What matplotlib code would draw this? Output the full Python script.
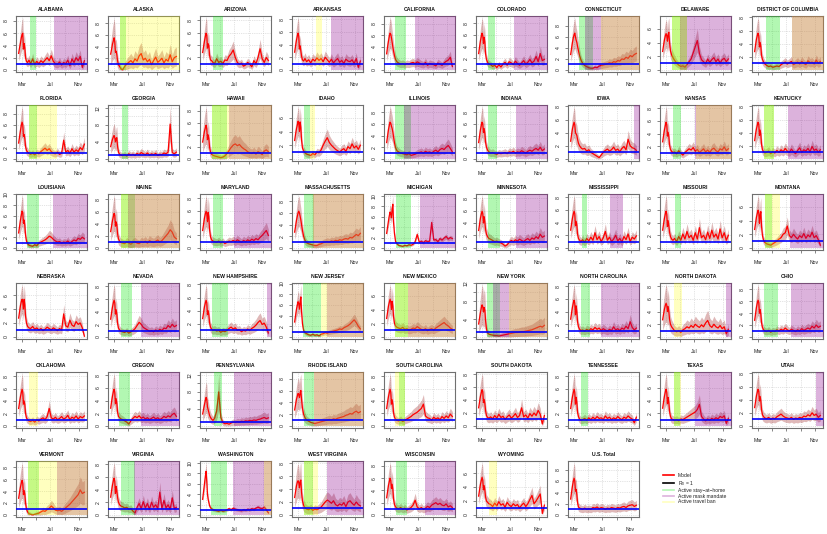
import numpy as np
import matplotlib.pyplot as plt
from matplotlib.lines import Line2D

plt.rcParams['font.family'] = ['Liberation Sans', 'DejaVu Sans']

days = [-16, -12, -8, -4, -1, 2, 5, 8, 11, 14, 18, 23, 29,
        36, 45, 54, 63, 72, 81, 90, 99, 108, 117, 126, 135, 144, 153,
        162, 171, 180, 189, 198, 207, 216, 225, 234, 243, 252, 261, 270]

states = ['ALABAMA', 'ALASKA', 'ARIZONA', 'ARKANSAS', 'CALIFORNIA', 'COLORADO',
          'CONNECTICUT', 'DELAWARE', 'DISTRICT OF COLUMBIA', 'FLORIDA', 'GEORGIA',
          'HAWAII', 'IDAHO', 'ILLINOIS', 'INDIANA', 'IOWA', 'KANSAS', 'KENTUCKY',
          'LOUISIANA', 'MAINE', 'MARYLAND', 'MASSACHUSETTS', 'MICHIGAN', 'MINNESOTA',
          'MISSISSIPPI', 'MISSOURI', 'MONTANA', 'NEBRASKA', 'NEVADA', 'NEW HAMPSHIRE',
          'NEW JERSEY', 'NEW MEXICO', 'NEW YORK', 'NORTH CAROLINA', 'NORTH DAKOTA',
          'OHIO', 'OKLAHOMA', 'OREGON', 'PENNSYLVANIA', 'RHODE ISLAND',
          'SOUTH CAROLINA', 'SOUTH DAKOTA', 'TENNESSEE', 'TEXAS', 'UTAH', 'VERMONT',
          'VIRGINIA', 'WASHINGTON', 'WEST VIRGINIA', 'WISCONSIN', 'WYOMING', 'U.S. Total']

# estimated reproduction number (model mean)
rt = {
    'ALABAMA': [2.7, 3.6, 4.4, 5.3, 5.8, 6.0, 3.4, 4.3, 3.6, 2.0, 1.4, 1.2, 1.6,
                1.0, 1.8, 0.9, 1.4, 1.0, 1.5, 1.2, 1.6, 2.0, 1.5, 2.3, 1.4, 1.0, 0.9, 1.3, 0.8, 1.2, 1.0, 1.6, 0.7, 1.8, 1.2, 2.0, 1.5, 2.2, 0.4, 1.5],
    'ALASKA': [2.7, 3.5, 4.4, 5.0, 5.5, 4.8, 3.0, 3.2, 2.6, 1.6, 0.9, 0.6, 0.2,
               0.0, 0.6, 1.0, 1.3, 1.6, 1.2, 1.9, 1.5, 2.4, 2.8, 1.7, 2.0, 1.4, 1.8, 0.9, 1.6, 2.2, 1.3, 1.6, 2.0, 1.2, 1.8, 1.5, 2.6, 1.4, 2.1, 2.3],
    'ARIZONA': [2.8, 3.7, 4.6, 5.4, 5.9, 5.6, 3.5, 4.2, 3.9, 2.4, 1.6, 1.5, 1.2,
                1.0, 1.8, 1.2, 1.4, 1.0, 1.6, 1.5, 2.2, 2.6, 3.2, 2.0, 1.2, 0.9, 1.1, 0.6, 0.8, 1.2, 0.9, 0.5, 1.5, 1.0, 2.0, 3.4, 1.8, 1.2, 2.0, 1.5],
    'ARKANSAS': [2.8, 3.8, 4.7, 5.4, 5.8, 5.3, 3.3, 3.8, 3.0, 2.2, 1.6, 1.4, 1.8,
                 1.3, 1.6, 1.1, 1.7, 1.4, 1.9, 1.5, 1.8, 1.3, 2.0, 1.6, 1.2, 1.7, 1.1, 1.5, 1.8, 1.2, 1.5, 1.0, 1.7, 1.4, 1.3, 1.6, 1.0, 1.8, 0.4, 1.4],
    'CALIFORNIA': [2.8, 4.0, 5.0, 5.9, 6.4, 6.2, 5.6, 4.8, 4.0, 3.3, 2.5, 1.8, 1.4,
                   1.2, 1.0, 1.1, 0.9, 1.1, 1.0, 1.2, 1.3, 1.1, 1.4, 1.2, 1.0, 0.9, 1.3, 0.8, 1.1, 1.0, 0.9, 0.7, 1.2, 1.0, 0.8, 1.2, 1.5, 1.7, 2.2, 0.6],
    'COLORADO': [2.8, 3.9, 5.0, 5.8, 6.3, 5.9, 4.5, 5.6, 4.8, 2.8, 1.8, 1.3, 1.0,
                 0.9, 0.6, 0.8, 0.4, 0.9, 0.5, 1.0, 1.3, 0.8, 1.4, 1.2, 0.9, 1.5, 1.1, 0.8, 1.2, 1.6, 1.0, 1.3, 1.8, 1.2, 1.5, 2.3, 1.4, 2.8, 1.6, 1.8],
    'CONNECTICUT': [2.8, 3.9, 5.0, 5.9, 6.4, 6.7, 6.0, 5.4, 5.0, 4.3, 3.5, 2.6, 1.8,
                    1.2, 0.8, 0.6, 0.4, 0.3, 0.3, 0.5, 0.4, 0.7, 0.8, 0.9, 1.0, 1.1, 1.3, 1.2, 1.5, 1.4, 1.7, 1.6, 2.0, 1.9, 2.3, 2.1, 2.6, 2.4, 2.8, 3.0],
    'DELAWARE': [2.7, 3.6, 4.4, 5.0, 5.3, 5.0, 4.2, 5.2, 5.5, 4.0, 2.8, 2.2, 1.8,
                 1.4, 1.0, 0.7, 0.5, 0.6, 0.4, 0.8, 1.2, 1.6, 2.5, 3.4, 4.3, 2.4, 1.5, 1.2, 0.9, 1.6, 1.1, 1.5, 1.8, 1.2, 1.6, 1.0, 1.5, 1.7, 1.2, 1.6],
    'DISTRICT OF COLUMBIA': [2.8, 3.8, 4.7, 5.3, 5.6, 5.2, 3.5, 4.2, 3.6, 2.2, 1.6, 1.2, 0.9,
                             0.7, 0.5, 0.6, 0.4, 0.5, 0.6, 0.5, 0.8, 1.0, 1.2, 0.9, 1.1, 1.3, 0.8, 1.0, 1.2, 0.9, 1.3, 1.0, 0.8, 1.4, 1.1, 1.2, 0.9, 1.5, 1.0, 1.3],
    'FLORIDA': [2.8, 3.9, 5.0, 6.0, 6.5, 6.0, 4.0, 4.3, 3.6, 2.2, 1.5, 1.2, 1.0,
                0.8, 1.0, 0.7, 1.1, 0.9, 1.3, 1.6, 1.9, 1.5, 1.8, 1.3, 1.0, 0.9, 1.2, 0.8, 1.0, 3.3, 1.2, 1.5, 1.0, 1.8, 1.2, 1.6, 1.3, 2.0, 1.6, 2.6],
    'GEORGIA': [2.9, 3.8, 4.6, 5.2, 5.5, 5.0, 4.0, 4.8, 5.0, 3.0, 1.6, 1.1, 0.9,
                0.8, 1.0, 0.7, 1.2, 0.9, 1.1, 0.8, 1.3, 1.0, 1.5, 1.2, 1.0, 1.4, 0.9, 1.2, 1.0, 1.3, 0.8, 1.1, 1.0, 1.4, 1.2, 1.6, 8.2, 1.5, 1.2, 1.6],
    'HAWAII': [2.8, 3.7, 4.6, 5.2, 5.6, 5.0, 3.2, 4.0, 3.4, 2.0, 1.2, 0.8, 0.6,
               0.5, 0.4, 0.3, 0.2, 0.3, 0.5, 0.9, 1.4, 1.9, 2.3, 2.5, 2.2, 2.4, 2.0, 1.7, 1.5, 1.2, 1.0, 0.9, 1.1, 0.8, 1.2, 1.0, 0.7, 1.3, 1.5, 1.2],
    'IDAHO': [2.7, 3.6, 4.4, 5.0, 5.5, 5.2, 4.0, 5.4, 4.6, 2.8, 1.6, 1.2, 0.9,
              0.7, 0.6, 0.5, 0.8, 0.6, 1.0, 0.9, 1.3, 2.0, 2.6, 3.1, 2.4, 2.0, 1.7, 1.4, 1.2, 1.0, 1.3, 1.5, 1.1, 1.8, 1.5, 2.2, 1.6, 1.9, 1.4, 2.0],
    'ILLINOIS': [2.8, 3.9, 5.0, 5.8, 6.3, 6.1, 5.6, 5.2, 4.6, 3.8, 2.8, 1.9, 1.4,
                 1.2, 1.0, 0.9, 0.8, 0.7, 0.9, 0.6, 0.7, 0.8, 1.0, 1.1, 1.2, 1.0, 1.3, 1.1, 1.2, 1.0, 1.3, 1.5, 1.2, 1.6, 1.8, 1.6, 2.0, 2.3, 1.8, 1.2],
    'INDIANA': [2.8, 3.9, 5.0, 5.8, 6.3, 6.0, 4.5, 5.2, 4.4, 2.9, 2.0, 1.5, 1.2,
                1.0, 1.1, 0.9, 0.8, 1.0, 0.9, 1.0, 1.1, 0.9, 1.2, 1.1, 1.3, 1.0, 1.2, 1.1, 1.4, 1.2, 1.0, 1.3, 1.5, 1.3, 1.6, 1.8, 1.5, 2.0, 1.4, 1.7],
    'IOWA': [2.7, 3.7, 4.6, 5.2, 5.6, 5.2, 4.0, 3.8, 3.6, 3.0, 2.4, 2.0, 1.7,
             1.5, 1.6, 1.2, 1.4, 1.0, 0.8, 0.6, 0.4, 0.2, 0.6, 1.0, 1.3, 1.5, 1.2, 1.4, 1.8, 1.3, 1.5, 1.1, 1.6, 1.9, 1.4, 3.0, 2.0, 1.7, 1.6, 1.3],
    'KANSAS': [2.7, 3.7, 4.6, 5.3, 5.8, 5.4, 3.6, 4.2, 3.5, 2.2, 1.5, 1.2, 1.0,
               1.1, 0.8, 1.3, 0.9, 0.6, 1.0, 1.3, 1.6, 1.4, 1.8, 1.2, 1.5, 1.0, 1.3, 1.6, 1.1, 1.4, 1.0, 1.5, 1.7, 1.3, 1.1, 1.6, 1.4, 1.9, 1.3, 1.6],
    'KENTUCKY': [2.8, 3.8, 4.6, 5.2, 5.6, 5.3, 3.6, 4.4, 3.7, 2.2, 1.4, 1.1, 0.9,
                 1.0, 1.2, 0.8, 1.1, 0.9, 1.3, 1.0, 1.4, 1.1, 1.6, 1.2, 1.0, 1.5, 1.1, 0.8, 1.3, 1.7, 1.0, 1.4, 1.2, 1.6, 1.1, 1.9, 1.3, 1.5, 1.0, 1.4],
    'LOUISIANA': [2.8, 4.0, 5.2, 6.2, 6.9, 6.6, 4.6, 5.2, 4.2, 2.4, 1.3, 0.8, 0.5,
                  0.4, 0.3, 0.6, 0.4, 0.9, 1.1, 1.3, 1.5, 1.8, 2.2, 2.0, 1.6, 1.3, 1.1, 1.2, 0.9, 1.1, 1.0, 1.3, 0.9, 1.2, 1.5, 1.3, 1.8, 1.6, 2.0, 1.7],
    'MAINE': [2.7, 3.6, 4.5, 5.2, 5.7, 5.4, 3.6, 4.3, 3.8, 2.4, 1.5, 1.1, 0.9,
              0.8, 0.7, 1.0, 0.8, 0.6, 0.9, 1.0, 0.8, 0.7, 1.0, 0.9, 1.1, 0.8, 1.2, 1.0, 0.9, 1.1, 1.3, 1.0, 1.2, 1.6, 2.0, 2.4, 3.0, 2.6, 1.8, 1.5],
    'MARYLAND': [2.8, 3.8, 4.8, 5.5, 5.9, 5.5, 4.2, 5.7, 5.0, 3.0, 1.8, 1.3, 1.1,
                 1.0, 0.9, 1.1, 0.8, 1.0, 0.7, 0.9, 1.1, 1.0, 1.2, 1.0, 1.3, 1.1, 0.9, 1.2, 1.0, 1.3, 1.1, 1.4, 1.2, 1.5, 1.3, 1.7, 2.0, 2.4, 2.8, 2.0],
    'MASSACHUSETTS': [2.7, 3.7, 4.7, 5.5, 6.0, 6.3, 6.0, 5.4, 4.8, 4.0, 3.0, 2.0, 1.3,
                      0.9, 0.7, 0.6, 0.5, 0.4, 0.4, 0.6, 0.7, 0.9, 1.0, 1.1, 1.0, 1.2, 1.1, 1.3, 1.2, 1.4, 1.3, 1.5, 1.6, 1.5, 1.8, 1.7, 2.0, 2.3, 2.1, 2.5],
    'MICHIGAN': [2.8, 4.0, 5.2, 6.3, 6.9, 6.5, 5.8, 7.6, 8.4, 5.0, 2.8, 1.2, 0.8,
                 0.5, 0.4, 0.3, 0.5, 0.4, 0.6, 0.5, 0.7, 1.2, 2.6, 1.1, 1.3, 1.0, 1.4, 1.2, 1.3, 4.9, 1.5, 1.6, 1.2, 1.8, 1.5, 1.9, 2.2, 1.7, 2.0, 1.8],
    'MINNESOTA': [2.8, 3.8, 4.8, 5.5, 5.9, 5.5, 4.0, 5.0, 4.2, 3.0, 2.2, 1.8, 1.5,
                  1.4, 1.2, 1.0, 1.1, 0.9, 0.8, 0.6, 0.3, 0.5, 0.9, 1.2, 1.0, 1.3, 1.1, 1.4, 1.2, 1.0, 1.3, 1.5, 1.2, 1.6, 1.4, 1.8, 1.5, 2.2, 1.7, 1.9],
    'MISSISSIPPI': [2.8, 3.8, 4.7, 5.4, 5.8, 5.4, 3.5, 4.2, 3.6, 2.2, 1.5, 1.2, 1.0,
                    1.3, 0.9, 1.5, 1.1, 1.7, 1.2, 2.4, 1.3, 1.8, 1.0, 1.6, 2.6, 1.2, 1.7, 1.0, 1.4, 2.0, 1.1, 1.5, 0.9, 1.8, 1.3, 2.2, 1.0, 1.7, 1.4, 1.9],
    'MISSOURI': [2.8, 3.8, 4.7, 5.4, 5.8, 5.3, 3.4, 4.3, 3.5, 2.5, 1.8, 1.4, 1.2,
                 1.5, 1.0, 1.8, 1.2, 2.2, 1.4, 2.6, 1.6, 2.0, 1.2, 2.4, 1.4, 3.2, 1.6, 2.0, 1.3, 2.5, 1.5, 2.8, 1.7, 2.2, 1.4, 3.0, 1.6, 2.4, 1.2, 2.0],
    'MONTANA': [2.7, 3.6, 4.5, 5.1, 5.5, 5.2, 3.6, 4.8, 5.3, 3.2, 1.8, 1.1, 0.8,
                0.6, 0.5, 0.4, 0.6, 0.8, 1.0, 1.3, 1.5, 2.0, 2.2, 3.2, 1.8, 1.5, 2.0, 1.6, 1.3, 1.8, 1.5, 2.1, 1.4, 1.9, 1.6, 2.3, 1.5, 1.8, 1.2, 0.4],
    'NEBRASKA': [2.7, 3.6, 4.5, 5.1, 5.4, 5.0, 4.0, 5.4, 4.6, 3.0, 2.0, 1.5, 1.3,
                 1.2, 1.5, 1.1, 1.3, 1.0, 1.2, 0.9, 1.1, 1.4, 1.2, 1.0, 1.3, 1.1, 0.9, 1.2, 1.0, 3.3, 1.6, 1.4, 2.4, 1.7, 1.5, 2.2, 1.8, 2.0, 1.3, 0.1],
    'NEVADA': [2.8, 3.8, 4.7, 5.4, 5.8, 5.4, 3.6, 4.3, 3.6, 2.2, 1.4, 1.1, 0.9,
               0.8, 0.7, 0.9, 0.6, 0.8, 1.0, 1.3, 1.8, 2.3, 2.0, 1.5, 1.3, 1.1, 0.9, 1.0, 0.8, 1.1, 0.9, 1.2, 1.0, 1.4, 1.3, 1.8, 1.5, 2.0, 1.6, 1.8],
    'NEW HAMPSHIRE': [2.8, 3.7, 4.6, 5.2, 5.6, 5.2, 3.4, 4.0, 3.4, 2.2, 1.5, 1.2, 1.0,
                      1.1, 0.9, 1.0, 0.7, 0.9, 0.8, 1.0, 1.3, 1.5, 1.2, 1.4, 1.0, 1.1, 0.8, 1.0, 0.9, 1.2, 1.0, 1.3, 1.5, 1.8, 2.2, 2.5, 1.9, 2.1, 1.5, 0.6],
    'NEW JERSEY': [2.8, 4.0, 5.2, 6.0, 6.6, 6.3, 5.2, 6.5, 7.5, 4.8, 2.5, 1.2, 0.8,
                   0.6, 0.4, 0.3, 0.5, 0.3, 0.4, 0.2, 0.5, 0.6, 0.8, 0.7, 0.9, 1.0, 1.1, 1.2, 1.3, 1.5, 1.4, 1.7, 1.9, 2.1, 2.4, 2.8, 3.2, 2.7, 2.0, 1.5],
    'NEW MEXICO': [2.7, 3.6, 4.5, 5.1, 5.5, 5.1, 4.0, 5.2, 4.5, 3.0, 2.0, 1.6, 1.4,
                   1.3, 1.2, 1.4, 1.1, 1.2, 1.0, 1.1, 1.3, 1.2, 1.5, 1.3, 1.1, 1.0, 1.2, 0.9, 1.1, 1.2, 1.0, 1.3, 1.5, 1.7, 1.9, 2.1, 1.8, 1.6, 1.3, 1.1],
    'NEW YORK': [2.9, 4.2, 5.5, 6.6, 7.2, 6.8, 5.6, 6.6, 6.0, 3.8, 1.8, 0.9, 0.6,
                 0.5, 0.4, 0.3, 0.3, 0.2, 0.3, 0.4, 0.5, 0.6, 0.7, 0.8, 0.9, 1.0, 1.0, 1.1, 1.2, 1.2, 1.3, 1.4, 1.5, 1.6, 1.8, 2.0, 2.2, 2.4, 2.2, 2.6],
    'NORTH CAROLINA': [2.8, 3.8, 4.7, 5.4, 5.8, 5.3, 3.5, 4.9, 4.0, 2.4, 1.6, 1.2, 1.0,
                       1.1, 0.9, 1.2, 1.0, 1.3, 1.1, 1.5, 1.2, 1.4, 1.0, 1.3, 1.1, 0.9, 1.2, 1.0, 1.6, 1.1, 1.3, 1.0, 1.4, 1.2, 1.7, 1.3, 2.4, 1.5, 1.1, 1.4],
    'NORTH DAKOTA': [2.7, 3.6, 4.4, 5.0, 5.3, 5.0, 4.0, 4.8, 4.0, 2.8, 2.0, 1.6, 1.3,
                     1.0, 0.8, 1.0, 0.7, 1.1, 1.3, 1.6, 1.4, 1.8, 1.5, 2.0, 1.7, 1.5, 1.9, 1.6, 2.2, 2.6, 1.8, 1.5, 2.0, 1.6, 1.4, 1.8, 1.3, 1.6, 0.5, 1.2],
    'OHIO': [2.8, 3.9, 5.0, 5.8, 6.2, 5.8, 4.0, 4.6, 3.8, 2.4, 1.6, 1.2, 1.0,
             0.9, 1.1, 0.8, 1.0, 0.9, 1.2, 1.0, 1.3, 1.1, 1.5, 1.2, 1.0, 1.3, 1.1, 0.9, 1.2, 1.0, 1.4, 1.1, 1.3, 1.5, 1.3, 1.8, 1.5, 2.0, 1.6, 1.8],
    'OKLAHOMA': [2.8, 3.8, 4.7, 5.4, 5.9, 5.4, 3.5, 4.0, 3.4, 2.0, 1.3, 1.0, 0.8,
                 0.7, 0.9, 0.6, 1.0, 0.8, 1.1, 1.3, 1.0, 1.5, 2.8, 1.3, 1.1, 1.4, 1.0, 1.2, 1.5, 1.1, 1.3, 1.7, 1.0, 1.4, 1.2, 1.6, 1.1, 1.5, 1.3, 1.6],
    'OREGON': [2.8, 3.8, 4.7, 5.4, 5.8, 5.3, 3.5, 4.3, 3.6, 2.2, 1.5, 1.3, 1.1,
               1.0, 0.8, 0.6, 0.3, 0.8, 1.2, 1.5, 1.3, 1.6, 1.2, 1.4, 1.1, 1.3, 1.0, 1.2, 1.4, 1.1, 1.3, 1.0, 1.2, 1.5, 1.3, 1.6, 1.4, 1.8, 2.0, 1.5],
    'PENNSYLVANIA': [2.8, 3.9, 5.0, 6.0, 6.7, 6.3, 4.5, 3.8, 3.2, 2.5, 2.0, 1.6, 1.3,
                     1.8, 3.5, 8.0, 2.0, 0.8, 0.5, 0.6, 0.4, 0.7, 0.9, 0.8, 1.0, 0.9, 1.1, 1.0, 1.2, 1.1, 1.3, 1.2, 1.4, 1.3, 1.5, 1.6, 1.8, 2.0, 1.7, 1.9],
    'RHODE ISLAND': [2.7, 3.6, 4.5, 5.1, 5.5, 5.3, 4.8, 5.6, 6.0, 4.5, 3.0, 2.0, 1.4,
                     1.0, 0.8, 0.6, 0.5, 0.4, 0.5, 0.6, 0.7, 0.8, 0.9, 1.0, 1.1, 1.0, 1.2, 1.1, 1.3, 1.4, 1.5, 1.6, 1.8, 1.9, 2.1, 2.0, 2.3, 2.5, 2.2, 2.4],
    'SOUTH CAROLINA': [2.8, 3.8, 4.7, 5.4, 5.9, 5.4, 3.5, 4.2, 3.5, 2.1, 1.4, 1.1, 0.9,
                       0.8, 1.0, 0.7, 0.9, 1.1, 1.3, 1.5, 1.8, 2.0, 2.2, 2.5, 2.8, 3.5, 1.6, 1.3, 1.2, 0.9, 1.4, 1.1, 1.3, 1.0, 1.5, 1.2, 1.6, 1.3, 1.9, 1.5],
    'SOUTH DAKOTA': [2.8, 3.7, 4.6, 5.2, 5.6, 5.3, 3.6, 4.1, 3.5, 2.4, 1.6, 1.3, 1.2,
                     1.4, 1.1, 1.6, 1.2, 1.8, 1.3, 1.5, 1.0, 1.4, 1.7, 1.2, 1.5, 1.9, 1.3, 1.6, 2.8, 1.4, 1.7, 1.2, 1.9, 1.5, 2.0, 1.6, 2.4, 1.8, 0.3, 1.6],
    'TENNESSEE': [2.8, 3.8, 4.7, 5.4, 5.9, 5.4, 3.5, 4.6, 3.8, 2.2, 1.5, 1.1, 0.9,
                  1.0, 1.2, 0.9, 1.3, 1.0, 1.4, 1.1, 1.5, 1.2, 1.3, 1.0, 1.6, 1.2, 1.4, 1.0, 1.3, 1.1, 1.5, 1.2, 1.0, 1.4, 1.2, 1.6, 1.3, 1.1, 0.5, 1.4],
    'TEXAS': [2.8, 3.8, 4.7, 5.4, 5.8, 5.3, 3.5, 4.5, 3.7, 2.3, 1.5, 1.1, 1.0,
              0.9, 1.0, 0.8, 1.1, 1.0, 1.2, 1.4, 1.6, 1.8, 2.0, 2.2, 2.6, 3.4, 1.5, 1.1, 0.8, 1.1, 0.9, 1.2, 1.0, 1.3, 1.1, 1.5, 1.3, 1.6, 0.4, 1.2],
    'UTAH': [2.8, 3.7, 4.6, 5.2, 5.6, 5.3, 3.8, 4.5, 3.8, 2.5, 1.7, 1.4, 1.2,
             1.1, 1.3, 1.0, 1.2, 1.1, 1.4, 1.6, 1.8, 1.5, 1.3, 1.2, 1.1, 1.3, 1.0, 1.2, 1.1, 1.3, 1.2, 1.5, 1.4, 1.7, 1.5, 2.0, 1.6, 1.8, 1.3, 1.6],
    'VERMONT': [2.8, 3.8, 4.7, 5.4, 5.8, 5.3, 3.4, 4.1, 3.5, 2.0, 1.0, 0.5, 0.2,
                0.1, 0.0, 0.1, 0.2, 0.3, 0.5, 0.7, 0.6, 0.9, 1.1, 1.5, 1.2, 0.8, 0.7, 0.8, 0.6, 0.9, 1.2, 1.5, 1.8, 2.2, 2.6, 3.0, 3.4, 4.2, 3.6, 3.8],
    'VIRGINIA': [2.8, 3.8, 4.7, 5.4, 5.8, 5.3, 3.4, 4.5, 3.8, 2.8, 2.0, 1.6, 1.4,
                 1.3, 1.1, 1.2, 0.9, 1.0, 0.6, 0.3, 1.2, 1.8, 1.0, 2.1, 1.1, 1.8, 0.9, 2.0, 1.2, 1.6, 1.0, 3.6, 1.0, 2.3, 1.1, 1.6, 0.9, 2.7, 1.0, 1.2],
    'WASHINGTON': [3.0, 4.5, 6.0, 7.5, 8.4, 6.5, 4.0, 3.0, 2.4, 1.8, 1.4, 1.2, 1.0,
                   0.9, 0.8, 0.7, 0.9, 0.7, 0.8, 1.0, 1.2, 1.0, 1.3, 1.1, 1.0, 0.9, 0.8, 1.0, 0.9, 1.1, 1.0, 1.2, 1.1, 1.3, 1.5, 1.3, 1.2, 1.5, 1.0, 0.4],
    'WEST VIRGINIA': [2.7, 3.6, 4.5, 5.1, 5.3, 5.0, 4.2, 5.2, 5.4, 3.5, 2.2, 1.5, 1.1,
                      0.9, 0.8, 1.0, 0.7, 0.9, 0.8, 1.0, 1.2, 1.6, 2.0, 2.3, 2.1, 1.8, 2.2, 1.6, 1.4, 1.7, 1.5, 1.9, 1.3, 2.0, 2.2, 1.8, 1.5, 2.0, 1.6, 1.4],
    'WISCONSIN': [2.8, 3.8, 4.8, 5.5, 6.0, 5.6, 4.3, 5.0, 4.2, 2.6, 1.7, 1.3, 1.1,
                  1.0, 1.2, 0.9, 1.1, 0.8, 1.0, 1.2, 1.6, 2.4, 1.3, 1.0, 1.2, 0.9, 1.1, 1.4, 1.2, 1.6, 1.8, 2.0, 1.7, 1.9, 1.6, 1.5, 1.8, 1.3, 1.5, 1.2],
    'WYOMING': [2.7, 3.6, 4.4, 5.0, 5.4, 5.0, 3.6, 4.2, 3.6, 2.6, 2.0, 1.8, 1.6,
                1.5, 1.2, 1.7, 1.3, 1.9, 1.4, 1.6, 1.1, 1.8, 1.4, 1.2, 1.6, 1.3, 1.5, 1.0, 1.4, 1.7, 1.2, 1.6, 2.2, 2.8, 1.6, 2.0, 2.5, 3.0, 0.2, 1.4],
    'U.S. Total': [2.8, 4.0, 5.1, 6.0, 6.5, 6.0, 4.2, 4.5, 3.6, 2.2, 1.4, 1.2, 1.1,
                   1.0, 1.2, 1.0, 1.1, 1.0, 1.3, 1.2, 1.4, 1.1, 1.3, 1.2, 1.0, 1.2, 1.1, 1.3, 1.2, 1.1, 1.3, 1.2, 1.4, 1.5, 1.3, 1.6, 1.7, 1.8, 1.5, 1.7],
}

# relative width of the credible band (default 1.15)
ci_scale = {'ALASKA': 1.7, 'HAWAII': 1.5, 'MAINE': 1.4, 'VERMONT': 1.4, 'RHODE ISLAND': 1.3,
            'DELAWARE': 1.05, 'IDAHO': 1.05, 'NEBRASKA': 1.05, 'MONTANA': 1.05,
            'NEW MEXICO': 1.05, 'WYOMING': 1.05, 'SOUTH DAKOTA': 1.2, 'WEST VIRGINIA': 1.35,
            'NORTH DAKOTA': 1.5, 'GEORGIA': 1.4, 'MICHIGAN': 0.55, 'WASHINGTON': 0.55,
            'NEW JERSEY': 0.85, 'NEW YORK': 1.75, 'PENNSYLVANIA': 1.5}

# intervention periods (2020, 'MM-DD'); None = still active
stay_home = {
    'ALABAMA': [('04-04', '04-30')], 'ALASKA': [('03-27', '04-20')],
    'ARIZONA': [('04-01', '05-12')], 'CALIFORNIA': [('03-20', '05-07')],
    'COLORADO': [('03-26', '04-27')], 'CONNECTICUT': [('03-23', '05-21')],
    'DELAWARE': [('03-24', '05-31')], 'DISTRICT OF COLUMBIA': [('04-03', '06-05')],
    'FLORIDA': [('04-01', '05-04')], 'GEORGIA': [('04-03', '04-30')],
    'HAWAII': [('03-25', '06-01')], 'IDAHO': [('03-25', '04-23')],
    'ILLINOIS': [('03-21', '05-30')], 'INDIANA': [('03-25', '05-03')],
    'KANSAS': [('03-31', '05-04')], 'KENTUCKY': [('03-27', '05-10')],
    'LOUISIANA': [('03-23', '05-13')], 'MAINE': [('04-01', '05-31')],
    'MARYLAND': [('03-30', '05-13')], 'MASSACHUSETTS': [('03-24', '05-07')],
    'MICHIGAN': [('03-24', '05-28')], 'MINNESOTA': [('03-27', '05-18')],
    'MISSISSIPPI': [('04-03', '04-27')], 'MISSOURI': [('04-07', '05-02')],
    'MONTANA': [('03-28', '04-30')], 'NEVADA': [('03-31', '05-16')],
    'NEW HAMPSHIRE': [('03-27', '06-02')], 'NEW JERSEY': [('03-21', '06-08')],
    'NEW MEXICO': [('03-22', '05-15')], 'NEW YORK': [('03-22', '05-18')],
    'NORTH CAROLINA': [('03-30', '05-09')], 'OHIO': [('03-24', '05-27')],
    'OREGON': [('03-23', '05-09')], 'PENNSYLVANIA': [('04-02', '05-09')],
    'RHODE ISLAND': [('03-26', '05-07')], 'SOUTH CAROLINA': [('04-08', '05-04')],
    'TENNESSEE': [('03-31', '04-28')], 'TEXAS': [('04-02', '04-30')],
    'VERMONT': [('03-24', '05-13')], 'VIRGINIA': [('03-30', '06-01')],
    'WASHINGTON': [('03-23', '05-29')], 'WEST VIRGINIA': [('03-24', '05-04')],
    'WISCONSIN': [('03-24', '05-11')],
}
mask = {
    'ALABAMA': [('07-16', None)], 'ARKANSAS': [('07-20', None)],
    'CALIFORNIA': [('06-17', None)], 'COLORADO': [('07-16', None)],
    'CONNECTICUT': [('04-18', None)], 'DELAWARE': [('04-28', None)],
    'DISTRICT OF COLUMBIA': [('07-24', None)], 'HAWAII': [('06-09', None)],
    'ILLINOIS': [('05-01', None)], 'INDIANA': [('07-27', None)],
    'IOWA': [('11-17', None)], 'KANSAS': [('07-04', None)],
    'KENTUCKY': [('07-10', None)], 'LOUISIANA': [('07-13', None)],
    'MAINE': [('04-29', None)], 'MARYLAND': [('07-01', None)],
    'MASSACHUSETTS': [('05-06', None)], 'MICHIGAN': [('07-10', None)],
    'MINNESOTA': [('07-25', None)], 'MISSISSIPPI': [('08-03', '09-28')],
    'MONTANA': [('07-15', None)], 'NEVADA': [('06-25', None)],
    'NEW HAMPSHIRE': [('11-18', None)], 'NEW JERSEY': [('07-03', None)],
    'NEW MEXICO': [('05-18', None)], 'NEW YORK': [('04-17', None)],
    'NORTH CAROLINA': [('06-26', None)], 'NORTH DAKOTA': [('11-14', None)],
    'OHIO': [('07-23', None)], 'OREGON': [('06-26', None)],
    'PENNSYLVANIA': [('07-01', None)], 'RHODE ISLAND': [('05-07', None)],
    'TEXAS': [('07-04', None)], 'UTAH': [('11-08', None)],
    'VERMONT': [('07-30', None)], 'VIRGINIA': [('05-24', None)],
    'WASHINGTON': [('06-24', None)], 'WEST VIRGINIA': [('07-05', None)],
    'WISCONSIN': [('07-30', None)],
}
travel = {
    'ALASKA': [('03-26', None)], 'ARKANSAS': [('05-17', '06-13')],
    'CONNECTICUT': [('06-24', None)], 'DELAWARE': [('03-27', '05-31')],
    'DISTRICT OF COLUMBIA': [('07-24', None)], 'FLORIDA': [('03-31', '07-31')],
    'HAWAII': [('03-25', None)], 'IDAHO': [('04-23', '05-12')],
    'KANSAS': [('07-07', None)], 'KENTUCKY': [('03-27', '05-10')],
    'MAINE': [('04-01', None)], 'MASSACHUSETTS': [('05-06', None)],
    'MONTANA': [('03-28', '06-03')], 'NEW JERSEY': [('06-08', None)],
    'NEW MEXICO': [('03-22', None)], 'NEW YORK': [('06-24', None)],
    'NORTH DAKOTA': [('04-02', '05-09')], 'OKLAHOMA': [('03-31', '05-09')],
    'RHODE ISLAND': [('05-07', None)], 'SOUTH CAROLINA': [('03-22', '05-04')],
    'TEXAS': [('04-02', '05-02')], 'VERMONT': [('03-25', None)],
    'WASHINGTON': [('11-09', None)], 'WEST VIRGINIA': [('03-26', '05-27')],
    'WYOMING': [('04-01', '05-04')],
}

GREEN = (0.0, 0.9, 0.0, 0.3)
PURPLE = (0.55, 0.0, 0.55, 0.3)
YELLOW = (1.0, 1.0, 0.0, 0.25)


def day_of(s):
    if s is None:
        return 320
    return int((np.datetime64('2020-' + s) - np.datetime64('2020-03-01')).astype(int))


def pretty_step(lo, hi, n=5):
    # same choice of tick unit as R's pretty()
    cell = (hi - lo) / n
    u = 10 ** np.floor(np.log10(cell))
    unit = u
    if 2 * u - cell < 1.5 * (cell - unit):
        unit = 2 * u
        if 5 * u - cell < 2.75 * (cell - unit):
            unit = 5 * u
            if 10 * u - cell < 1.5 * (cell - unit):
                unit = 10 * u
    return unit


W, H = 828, 534
AX_H = 56.3
fig = plt.figure(figsize=(W / 100, H / 100), dpi=100)

x = np.array(days)
span = x.max() - x.min()
xlim = (x.min() - 0.04 * span, x.max() + 0.04 * span)

for i, name in enumerate(states):
    r, c = divmod(i, 9)
    ax = fig.add_axes([(c * 92 + 16) / W, 1 - (r * 89 + 72) / H, 71 / W, AX_H / H])
    v = np.array(rt[name])
    assert len(v) == len(x), name
    w = ci_scale.get(name, 1.15) * (0.2 + 0.33 * v)
    lo = np.clip(v - w, 0, None)
    hi = v + w
    top = hi.max()
    ylim = (-0.04 * top, top * 1.04)

    ax.fill_between(x, lo, hi, color=(0.55, 0.0, 0.0), alpha=0.28, lw=0, zorder=1)
    ax.plot(x, v, color='red', lw=0.9, zorder=2)
    for periods, col in ((stay_home, GREEN), (mask, PURPLE), (travel, YELLOW)):
        for a, b in periods.get(name, []):
            ax.fill_between([day_of(a), day_of(b)], 0, ylim[1], color=col, lw=0, zorder=3)
    ax.axhline(1, color='blue', lw=1.2, zorder=4)

    ax.set_xlim(xlim)
    ax.set_ylim(ylim)
    step = pretty_step(*ylim)
    yt = np.arange(0, ylim[1], step)
    # like R, skip a label when it would crowd the previous one
    px_per_step = step * AX_H / (ylim[1] - ylim[0])
    keep = 2 if px_per_step < 9.5 else 1
    ax.set_yticks(yt)
    ax.set_yticklabels(['%g' % t if k % keep == 0 else '' for k, t in enumerate(yt)])
    ax.set_xticks([0, 61, 122, 184, 245])
    ax.set_xticklabels(['Mar', '', 'Jul', '', 'Nov'])
    ax.grid(True, color='#c8c8c8', ls=':', lw=0.5)
    ax.set_axisbelow(True)
    ax.tick_params(length=2, width=0.5, colors='#555555', labelsize=3.7,
                   labelcolor='#222222')
    ax.tick_params(axis='y', labelrotation=90, pad=3)
    ax.tick_params(axis='x', pad=5)
    for t in ax.get_yticklabels():
        t.set_va('center')
    for sp in ax.spines.values():
        sp.set_color('#707070')
        sp.set_linewidth(0.8)
    ax.set_title(name, fontsize=3.7, fontweight='bold', pad=3.5, color='#111111')

handles = [Line2D([], [], color='red', lw=1.2),
           Line2D([], [], color='black', lw=1.2),
           Line2D([], [], color=GREEN, lw=1.2),
           Line2D([], [], color=PURPLE, lw=1.2),
           Line2D([], [], color=YELLOW, lw=1.2)]
labels = ['Model', r'$\mathregular{R_0}$ = 1', 'Active stay\u2212at\u2212home',
          'Active mask mandate', 'Active travel ban']
fig.legend(handles, labels, loc='upper left', bbox_to_anchor=(663 / W, 1 - 473 / H),
           frameon=False, fontsize=3.6, handlelength=2.2, handletextpad=0.8,
           labelspacing=0.12, borderpad=0, borderaxespad=0, labelcolor='#222222')

fig.savefig('out.png', dpi=100)
